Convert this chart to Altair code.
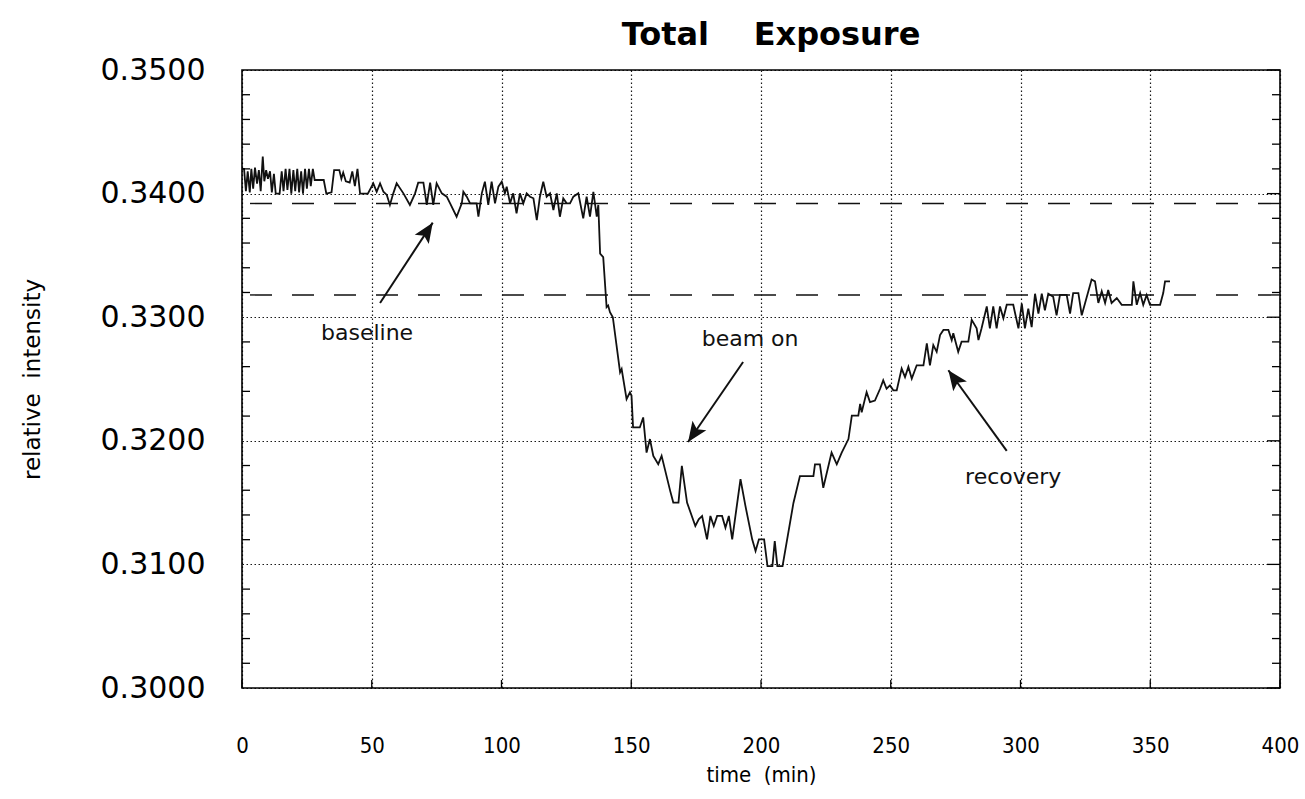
import math
import altair as alt
import pandas as pd

W, H = 1038, 618

title_text = "Total\u00a0\u00a0\u00a0\u00a0Exposure"
x_title = "time\u00a0\u00a0(min)"
y_title = "relative\u00a0\u00a0intensity"

x_ticks = [0, 50, 100, 150, 200, 250, 300, 350, 400]
y_ticks = [0.30, 0.31, 0.32, 0.33, 0.34, 0.35]
y_minor = [0.302, 0.304, 0.306, 0.308, 0.312, 0.314, 0.316, 0.318,
           0.322, 0.324, 0.326, 0.328, 0.332, 0.334, 0.336, 0.338,
           0.342, 0.344, 0.346, 0.348]

# (time in min, relative intensity)
early_baseline = [
    (0.0, 0.3420), (0.8, 0.3420), (1.5, 0.3402), (2.2, 0.3418), (3.0, 0.3401),
    (3.6, 0.3420), (4.3, 0.3404), (5.0, 0.3421), (5.8, 0.3408), (6.5, 0.3419),
    (7.2, 0.3402), (8.0, 0.3430), (8.6, 0.3410), (9.3, 0.3419), (10.0, 0.3412),
    (10.8, 0.3418), (11.5, 0.3401), (12.3, 0.3416), (13.0, 0.3400), (14.5, 0.3400),
    (15.3, 0.3418), (16.0, 0.3402), (16.8, 0.3420), (17.5, 0.3403), (18.3, 0.3420),
    (19.0, 0.3400), (19.8, 0.3419), (20.5, 0.3402), (21.3, 0.3420), (22.0, 0.3401),
    (22.8, 0.3418), (23.5, 0.3400), (24.3, 0.3420), (25.0, 0.3404), (25.8, 0.3420),
    (26.5, 0.3406), (27.3, 0.3420), (28.0, 0.3411), (31.5, 0.3411), (32.5, 0.3400),
    (34.5, 0.3401), (35.5, 0.3419), (37.5, 0.3419), (38.3, 0.3412), (39.0, 0.3417),
    (40.0, 0.3410), (41.5, 0.3409), (42.5, 0.3418), (43.5, 0.3406), (44.5, 0.3420),
    (45.5, 0.3400), (48.5, 0.3400),
]

late_baseline = [
    (50.6, 0.34083), (51.9, 0.34015), (53.2, 0.34083), (54.5, 0.34015), (55.8, 0.33989),
    (57.0, 0.33908), (58.3, 0.34002), (59.6, 0.34083), (62.2, 0.34002), (64.7, 0.33908),
    (66.7, 0.34002), (67.9, 0.34088), (69.9, 0.34088), (71.2, 0.33908), (72.5, 0.34088),
    (73.7, 0.33908), (75.0, 0.34083), (77.0, 0.34002), (78.9, 0.33975), (80.2, 0.33921),
    (82.7, 0.33813), (84.7, 0.33921), (85.3, 0.34015), (86.6, 0.33975), (87.9, 0.33921),
    (90.4, 0.33921), (91.1, 0.33813), (92.4, 0.34002), (93.6, 0.34096), (94.9, 0.33908),
    (96.2, 0.34096), (97.5, 0.33921), (98.8, 0.34056), (100.1, 0.34096), (101.3, 0.34002),
    (102.0, 0.34056), (103.3, 0.33921), (104.5, 0.34002), (105.8, 0.33841), (107.1, 0.34002),
    (108.4, 0.33921), (109.7, 0.34002), (111.0, 0.33975), (112.3, 0.33962), (113.6, 0.33786),
    (114.8, 0.33975), (116.1, 0.34096), (117.4, 0.33975), (118.7, 0.34002), (120.0, 0.33867),
    (121.3, 0.34002), (122.5, 0.33813), (123.8, 0.33962), (125.1, 0.33921), (126.4, 0.33921),
    (127.7, 0.33975), (129.6, 0.34002), (131.5, 0.33800), (132.8, 0.33975), (134.1, 0.33813),
    (135.4, 0.34015), (136.7, 0.33813), (137.3, 0.33908),
]

beam_on = [
    (138.0, 0.33514), (139.2, 0.33486), (140.5, 0.33081), (141.1, 0.33095), (141.8, 0.33041),
    (142.9, 0.33000), (145.7, 0.32554), (146.3, 0.32581), (148.2, 0.32338), (149.5, 0.32392),
    (150.1, 0.32365), (150.7, 0.32108), (153.3, 0.32108), (154.6, 0.32189), (155.9, 0.31905),
    (157.2, 0.32014), (158.5, 0.31878), (160.4, 0.31811), (161.7, 0.31878), (165.0, 0.31595),
    (166.2, 0.31500), (168.2, 0.31500), (169.5, 0.31797), (171.5, 0.31500), (174.7, 0.31311),
    (176.0, 0.31365), (177.3, 0.31392), (179.2, 0.31203), (180.5, 0.31392), (181.8, 0.31311),
    (183.1, 0.31392), (185.0, 0.31392), (186.3, 0.31297), (187.6, 0.31392), (188.9, 0.31203),
    (192.1, 0.31689), (194.0, 0.31473), (196.6, 0.31203), (197.9, 0.31108), (199.2, 0.31203),
    (201.2, 0.31203), (202.5, 0.30986), (204.4, 0.30986), (205.3, 0.31189), (206.3, 0.30986),
    (208.3, 0.30986),
]

recovery = [
    (212.5, 0.31497), (215.0, 0.31715), (220.2, 0.31715), (220.8, 0.31810), (222.7, 0.31810),
    (224.0, 0.31620), (227.2, 0.31905), (229.2, 0.31810), (231.1, 0.31905), (233.7, 0.32014),
    (235.0, 0.32204), (237.5, 0.32204), (238.2, 0.32299), (238.8, 0.32231), (240.7, 0.32394),
    (242.0, 0.32313), (243.9, 0.32326), (245.9, 0.32421), (247.1, 0.32489), (248.4, 0.32421),
    (249.7, 0.32448), (251.0, 0.32408), (252.3, 0.32408), (254.2, 0.32584), (255.5, 0.32516),
    (256.8, 0.32598), (258.1, 0.32503), (260.0, 0.32611), (262.6, 0.32611), (263.9, 0.32788),
    (265.1, 0.32611), (266.4, 0.32774), (267.7, 0.32720), (269.0, 0.32856), (270.3, 0.32897),
    (272.2, 0.32897), (273.5, 0.32815), (274.1, 0.32870), (276.0, 0.32720), (277.3, 0.32802),
    (279.9, 0.32802), (281.2, 0.32978), (283.1, 0.32910), (283.8, 0.32815), (285.0, 0.32910),
    (287.0, 0.33087), (288.2, 0.32910), (289.5, 0.33087), (290.8, 0.32910), (292.1, 0.33087),
    (293.4, 0.32992), (294.7, 0.33101), (297.2, 0.33101), (299.2, 0.32910), (300.5, 0.33110),
    (301.7, 0.32910), (303.0, 0.33070), (304.3, 0.32920), (305.6, 0.33190), (306.9, 0.33030),
    (308.2, 0.33190), (309.4, 0.33055), (310.7, 0.33190), (312.6, 0.33165), (313.9, 0.33015),
    (315.2, 0.33180), (317.8, 0.33180), (319.1, 0.33030), (320.3, 0.33195), (322.3, 0.33195),
    (323.6, 0.33015), (324.9, 0.33115), (327.4, 0.33305), (328.7, 0.33290), (330.0, 0.33115),
    (331.3, 0.33210), (332.6, 0.33115), (333.8, 0.33220), (335.1, 0.33115), (337.1, 0.33155),
    (339.0, 0.33100), (342.9, 0.33100), (343.5, 0.33290), (344.8, 0.33100), (346.1, 0.33195),
    (347.3, 0.33100), (348.6, 0.33180), (349.9, 0.33100), (353.8, 0.33100), (355.0, 0.33195),
    (355.7, 0.33290), (357.6, 0.33290),
]

dashed_levels = [0.3392, 0.3318]

# label, x (min), y (intensity)
labels = [("baseline", 48.2, 0.3287), ("beam on", 195.8, 0.3282), ("recovery", 297.2, 0.3171)]
# tail x, tail y, head x, head y
arrows = [(53.2, 0.33115, 73.5, 0.33765),
          (193.1, 0.32638, 171.9, 0.31990),
          (294.7, 0.31918, 272.2, 0.32571)]

series = early_baseline + late_baseline + beam_on + recovery
line_df = pd.DataFrame(series, columns=["t", "v"])

head_path = "M0,0L-0.42,1L0,0.78L0.42,1Z"
arrow_rows = []
for (t1, v1, t2, v2) in arrows:
    dx = (t2 - t1) * W / 400.0
    dy = -(v2 - v1) * H / 0.05
    ang = math.degrees(math.atan2(dx, -dy)) % 360
    arrow_rows.append({"t": t1, "v": v1, "t2": t2, "v2": v2, "ang": ang})
arrow_df = pd.DataFrame(arrow_rows)

label_font = "DejaVu Sans"
narrow = "DejaVu Sans Condensed, Liberation Sans Narrow, Roboto Condensed, Liberation Sans"

xs = alt.Scale(domain=[0, 400], nice=False)
ys = alt.Scale(domain=[0.30, 0.35], nice=False, zero=False)

line = alt.Chart(line_df).mark_line(color="#111111", strokeWidth=1.8).encode(
    x=alt.X("t:Q", scale=xs, axis=alt.Axis(
        values=x_ticks, title=x_title, grid=True, gridDash=[1.5, 2.5], gridColor="#000000",
        gridWidth=1.2, gridOpacity=0.9, domain=False, ticks=False, labelPadding=47,
        labelFontSize=22, labelFont=narrow, titleFont=narrow, titleFontSize=22,
        titleFontWeight="normal", titlePadding=8, labelFlush=False, labelColor="black",
        titleColor="black")),
    y=alt.Y("v:Q", scale=ys, axis=alt.Axis(
        values=y_ticks, format=".4f", title=y_title, grid=True, gridDash=[1.5, 2.5],
        gridColor="#000000", gridWidth=1.2, gridOpacity=0.9, domain=False, ticks=False,
        labelPadding=37, labelFontSize=30, labelFont=label_font, titleFont=label_font,
        titleFontSize=23, titleFontWeight="normal", titlePadding=56, labelFlush=False,
        labelColor="black", titleColor="black")),
)

dashes = alt.Chart(pd.DataFrame({"v": dashed_levels})).mark_rule(
    color="#111111", strokeWidth=1.4, strokeDash=[22, 20]).encode(y=alt.Y("v:Q", scale=ys))

left_ticks = alt.Chart(pd.DataFrame({"v": y_minor})).mark_rule(color="black", strokeWidth=1.3).encode(
    y=alt.Y("v:Q", scale=ys), x=alt.value(0), x2=alt.value(8))
right_ticks = alt.Chart(pd.DataFrame({"v": y_minor})).mark_rule(color="black", strokeWidth=1.3).encode(
    y=alt.Y("v:Q", scale=ys), x=alt.value(W - 8), x2=alt.value(W))
right_major = alt.Chart(pd.DataFrame({"v": y_ticks})).mark_rule(color="black", strokeWidth=1.3).encode(
    y=alt.Y("v:Q", scale=ys), x=alt.value(W - 13), x2=alt.value(W))
bottom_ticks = alt.Chart(pd.DataFrame({"t": x_ticks})).mark_rule(color="black", strokeWidth=1.3).encode(
    x=alt.X("t:Q", scale=xs), y=alt.value(H), y2=alt.value(H - 8))

arrow_lines = alt.Chart(arrow_df).mark_rule(color="#111111", strokeWidth=2).encode(
    x=alt.X("t:Q", scale=xs), y=alt.Y("v:Q", scale=ys), x2="t2:Q", y2="v2:Q")
arrow_heads = alt.Chart(arrow_df).mark_point(
    shape=head_path, filled=True, size=1600, color="#111111", opacity=1, strokeWidth=0).encode(
    x=alt.X("t2:Q", scale=xs), y=alt.Y("v2:Q", scale=ys), angle=alt.Angle("ang:Q", scale=None))

text_df = pd.DataFrame(labels, columns=["label", "t", "v"])
texts = alt.Chart(text_df).mark_text(font=label_font, fontSize=22, color="#111111").encode(
    x=alt.X("t:Q", scale=xs), y=alt.Y("v:Q", scale=ys), text="label:N")

title_mark = alt.Chart(pd.DataFrame({"title": [title_text]})).mark_text(
    font=label_font, fontSize=32, fontWeight="bold", color="black", baseline="alphabetic",
    align="center").encode(x=alt.value(W / 2 + 10), y=alt.value(-25), text="title:N")

chart = alt.layer(
    line, dashes, left_ticks, right_ticks, right_major, bottom_ticks, arrow_lines, arrow_heads,
    texts, title_mark
).properties(
    width=W, height=H,
    autosize=alt.AutoSizeParams(type="none"),
    padding={"left": 242, "top": 70, "right": 25, "bottom": 111},
    background="white",
).configure_view(stroke="black", strokeWidth=1.6)

chart.save("out.html", embed_options={"renderer": "svg", "actions": False})
